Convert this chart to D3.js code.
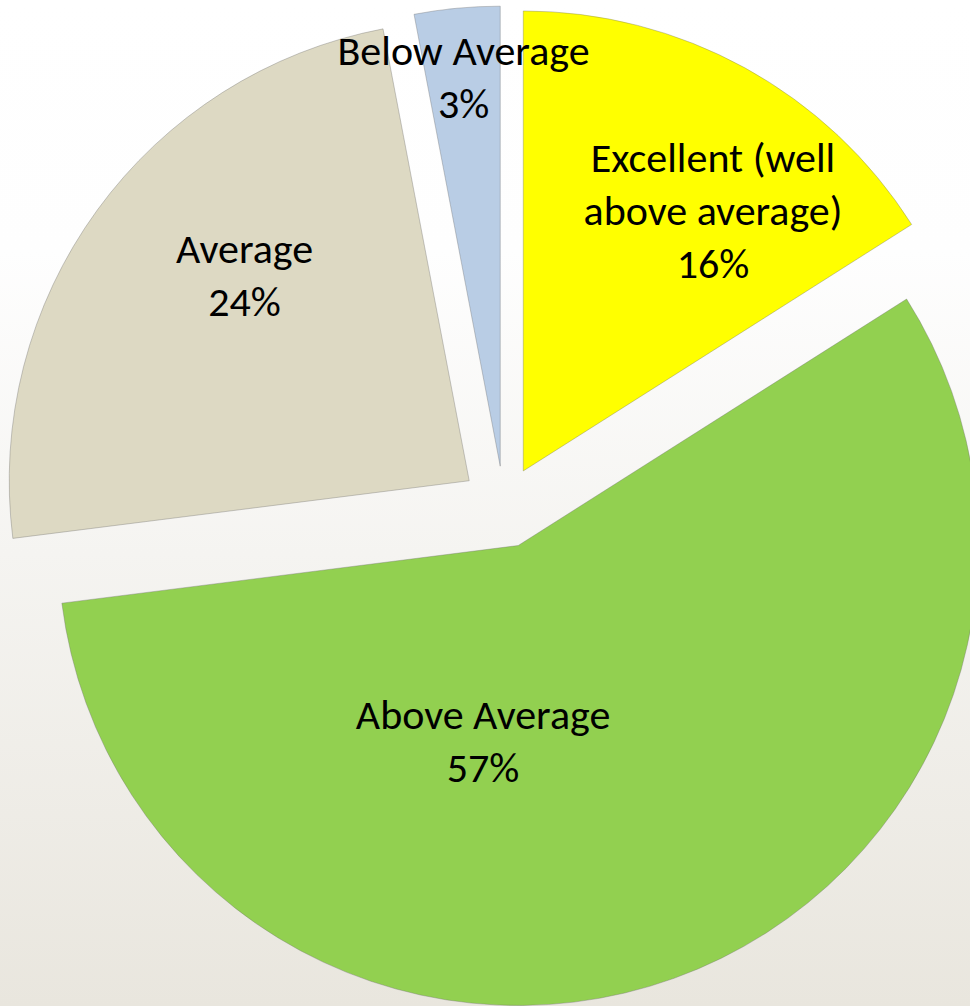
<!DOCTYPE html>
<html>
<head>
<meta charset="utf-8">
<script src="https://cdn.jsdelivr.net/npm/d3@7"></script>
<style>
  html, body { margin: 0; padding: 0; background: #fff; }
  svg { display: block; }
  text { font-family: Carlito, Calibri, Lato, "Open Sans", sans-serif; }
</style>
</head>
<body>
<svg id="chart" width="970" height="1006"></svg>
<script>
// Rating distribution
const categories = ["Excellent (well above average)", "Above Average", "Average", "Below Average"];
const labelLines = [["Excellent (well", "above average)"], ["Above Average"], ["Average"], ["Below Average"]];
const values = [16, 57, 24, 3];
const colors = ["#ffff00", "#92d050", "#ddd9c3", "#b9cde5"];

// Layout
const W = 970, H = 1006;
const cx = 504, cy = 506, R = 460;
const explode = [40, 42, 43, 40];
// label anchor per slice: [angle in degrees from 12 o'clock, distance from slice apex]
const labelAnchor = [[37.6, 311], [189.5, 213], [310.4, 295], [354.4, 376]];
const fontSize = 42, lineGap = 53;

const svg = d3.select("#chart");

const defs = svg.append("defs");
const bg = defs.append("linearGradient").attr("id", "bg")
  .attr("x1", 0).attr("y1", 0).attr("x2", 0).attr("y2", 1);
bg.append("stop").attr("offset", "0%").attr("stop-color", "#ffffff");
bg.append("stop").attr("offset", "25%").attr("stop-color", "#fefefe");
bg.append("stop").attr("offset", "55%").attr("stop-color", "#f5f4f1");
bg.append("stop").attr("offset", "100%").attr("stop-color", "#e9e6de");

svg.append("rect").attr("width", W).attr("height", H).attr("fill", "url(#bg)");

const pie = d3.pie().sort(null).value(d => d.value).startAngle(0).endAngle(2 * Math.PI);
const arc = d3.arc().innerRadius(0).outerRadius(R);

const data = categories.map((c, i) => ({ name: c, value: values[i], color: colors[i], lines: labelLines[i], i }));
const arcs = pie(data);

const slices = svg.append("g").selectAll("g.slice")
  .data(arcs)
  .join("g")
  .attr("class", "slice")
  .attr("transform", d => {
    const mid = (d.startAngle + d.endAngle) / 2;
    const e = explode[d.data.i];
    return `translate(${cx + e * Math.sin(mid)},${cy - e * Math.cos(mid)})`;
  });

slices.append("path")
  .attr("d", arc)
  .attr("fill", d => d.data.color)
  .attr("stroke", "rgba(110,110,110,0.45)")
  .attr("stroke-width", 0.8);

slices.each(function(d) {
  const [deg, dist] = labelAnchor[d.data.i];
  const a = deg * Math.PI / 180;
  const lx = dist * Math.sin(a), ly = -dist * Math.cos(a);
  const lines = d.data.lines.concat([d.data.value + "%"]);
  const n = lines.length;
  const t = d3.select(this).append("text")
    .attr("text-anchor", "middle")
    .attr("font-size", fontSize)
    .attr("fill", "#000");
  lines.forEach((s, k) => {
    t.append("tspan")
      .attr("x", lx)
      .attr("y", ly + (k - (n - 1) / 2) * lineGap)
      .text(s);
  });
});
</script>
</body>
</html>
